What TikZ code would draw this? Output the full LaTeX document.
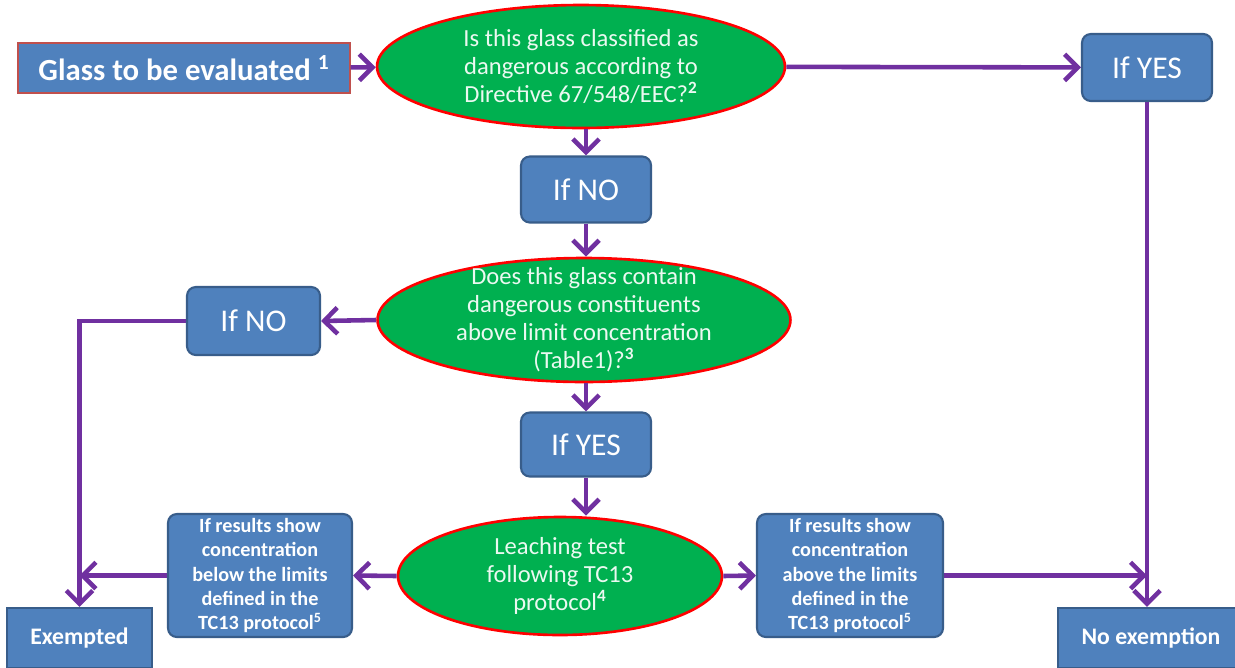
\documentclass[tikz,border=0pt]{standalone}
\usepackage{fontspec}
\setmainfont{Carlito}
\usetikzlibrary{shapes.geometric,arrows.meta}
\definecolor{boxblue}{HTML}{4F81BD}
\definecolor{boxedge}{HTML}{385D8A}
\definecolor{askgreen}{HTML}{00B050}
\definecolor{flowpurple}{HTML}{7030A0}
\definecolor{glassedge}{HTML}{C0504D}
\begin{document}
\begin{tikzpicture}[x=0.02cm,y=-0.02cm,
  box/.style={rectangle,rounded corners=5pt,fill=boxblue,draw=boxedge,line width=1.2pt,
    text=white,align=center,inner sep=0pt},
  ask/.style={ellipse,fill=askgreen,draw=red,line width=1.5pt,text=white!92!askgreen,
    align=center,inner xsep=0pt,inner ysep=-16pt,font=\fontsize{14}{15.9}\selectfont},
  flow/.style={draw=flowpurple,line width=2.6pt,-{Straight Barb[length=7.5pt,width=15pt]}}]
\clip (0,0) rectangle (1235,667);
\fill[white] (0,0) rectangle (1235,667);
% first row
\node[box,rounded corners=0pt,draw=glassedge,line width=0.8pt,minimum width=6.64cm,minimum height=1cm,
  font=\fontsize{17.5}{20}\selectfont\bfseries] (glass) at (184,68) {Glass to be evaluated \textsuperscript{1}};
\node[ask,minimum width=8.16cm,minimum height=2.46cm] (ask1) at (581,66.5)
  {Is this glass classified as\\dangerous according to\\Directive 67/548/EEC?\textsuperscript{\bfseries 2}};
\node[box,minimum width=2.6cm,minimum height=1.34cm,font=\fontsize{18}{21}\selectfont] (ifyes1) at (1147,67.5) {If YES};
% middle
\node[box,minimum width=2.6cm,minimum height=1.32cm,font=\fontsize{18}{21}\selectfont] (ifno1) at (586,189.5) {If NO};
\node[ask,minimum width=8.26cm,minimum height=2.48cm] (ask2) at (584,320)
  {Does this glass contain\\dangerous constituents\\above limit concentration\\(Table1)?\textsuperscript{\bfseries 3}};
\node[box,minimum width=2.66cm,minimum height=1.36cm,font=\fontsize{18}{21}\selectfont] (ifno2) at (253.5,321) {If NO};
\node[box,minimum width=2.6cm,minimum height=1.28cm,font=\fontsize{18}{21}\selectfont] (ifyes2) at (586,444.5) {If YES};
% bottom row
\node[ask,minimum width=6.48cm,minimum height=2.36cm] (leach) at (560,576)
  {Leaching test\\following TC13\\protocol\textsuperscript{\bfseries 4}};
\node[box,minimum width=3.68cm,minimum height=2.46cm,font=\fontsize{11.5}{13.9}\selectfont\bfseries] (below) at (260,575.5)
  {If results show\\concentration\\below the limits\\defined in the\\TC13 protocol\textsuperscript{5}};
\node[box,minimum width=3.72cm,minimum height=2.46cm,font=\fontsize{11.5}{13.9}\selectfont\bfseries] (above) at (850,575.5)
  {If results show\\concentration\\above the limits\\defined in the\\TC13 protocol\textsuperscript{5}};
\node[box,rounded corners=0pt,minimum width=2.9cm,minimum height=1.2cm,font=\fontsize{13.5}{16}\selectfont\bfseries] (exempt) at (79.5,638) {Exempted};
\node[box,rounded corners=0pt,minimum width=3.72cm,minimum height=1.2cm,font=\fontsize{13.5}{16}\selectfont\bfseries] (noex) at (1151,638) {No exemption};
% connectors
\draw[flow] (glass) -- (ask1);
\draw[flow] (ask1) -- (ifyes1);
\draw[flow] (ifyes1.south) -- (ifyes1.south |- noex.north);
\draw[flow] (ifno1.north |- ask1.south) -- (ifno1.north);
\draw[flow] (ifno1.south) -- (ask2.north -| ifno1.south);
\draw[flow] (ask2.west) -- (ifno2.east);
\draw[flow] (ifno2.west) -| (exempt.north);
\draw[flow] (ask2.south -| ifyes2.north) -- (ifyes2.north);
\draw[flow] (ifyes2.south) -- (ifyes2.south |- leach.north);
\draw[flow] (leach.west) -- (below.east);
\draw[flow] (leach.east) -- (above.west);
\draw[flow] (below.west) -- (below.west -| exempt.north);
\draw[flow] (above.east) -- (above.east -| ifyes1.south);
\end{tikzpicture}
\end{document}
